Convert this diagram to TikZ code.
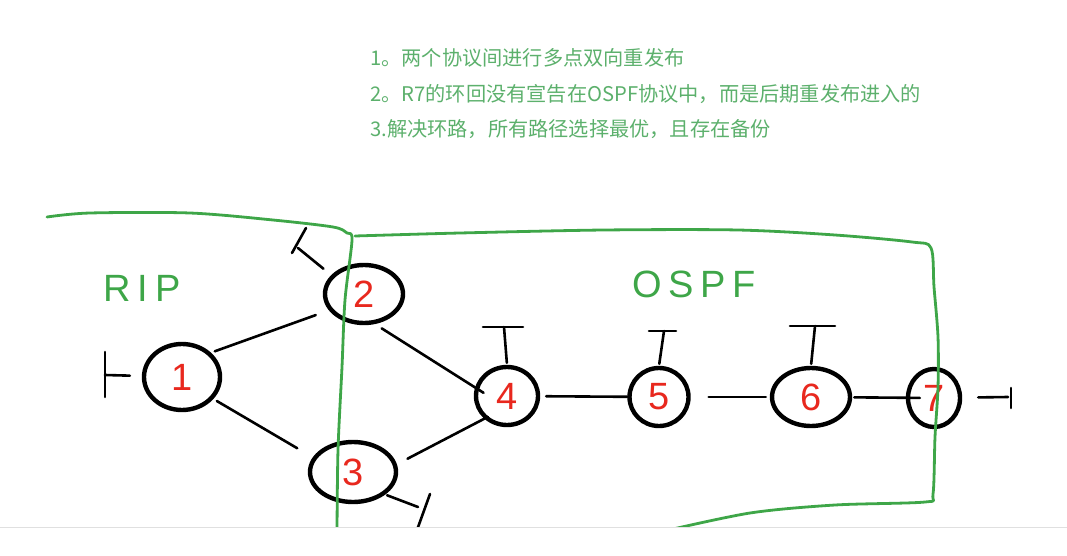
\documentclass[tikz,border=0pt]{standalone}
\usepackage{fontspec}
\newfontfamily\cjk{Noto Sans CJK SC}
\newfontfamily\cifre{Liberation Sans}
\newfontfamily\mano[LetterSpace=18]{Liberation Sans}
\usetikzlibrary{shapes.geometric}

\definecolor{testo}{RGB}{92,176,108}
\definecolor{verde}{RGB}{62,166,72}
\definecolor{rosso}{RGB}{232,40,30}

\tikzset{
    router/.style={ellipse, draw, line width=4.4pt, inner sep=0pt,
        text=rosso, font=\cifre\fontsize{38}{38}\selectfont},
    link/.style={line width=2.6pt, shorten <=4pt, shorten >=2pt},
    stub/.style={line width=2.6pt},
    bordo/.style={draw=verde, line width=2.8pt},
    riga/.style={anchor=base west, inner sep=0pt, text=testo,
        font=\cjk\fontsize{20.2}{20.2}\selectfont},
    area/.style={text=verde, font=\mano\fontsize{38}{38}\selectfont},
}

\begin{document}
\begin{tikzpicture}[x=1pt, y=-1pt, line cap=round, line join=round]

    \useasboundingbox (0,0) rectangle (1067,556);

    % Note in alto
    \node[riga] (nota1) at (370,65.5) {1。两个协议间进行多点双向重发布};
    \node[riga] (nota2) at (370,101.5) {2。R7的环回没有宣告在OSPF协议中，而是后期重发布进入的};
    \node[riga] (nota3) at (370,136.5) {3.解决环路，所有路径选择最优，且存在备份};

    \begin{scope}
    \clip (0,0) rectangle (1067,527);

    % Router
    \node[router, minimum width=76pt, minimum height=66pt] (r1) at (182,377) {1};
    \node[router, minimum width=78pt, minimum height=58pt] (r2) at (364,294) {2};
    \node[router, minimum width=86pt, minimum height=60pt] (r3) at (353,472) {3};
    \node[router, minimum width=62pt, minimum height=58pt] (r4) at (507,396) {4};
    \node[router, minimum width=59pt, minimum height=58pt] (r5) at (659,397) {5};
    \node[router, minimum width=78pt, minimum height=58pt] (r6) at (811,397) {6};
    \node[router, minimum width=52pt, minimum height=58pt] (r7) at (934,398) {7};

    % Collegamenti
    \draw[link, shorten >=14pt] (r1.40) -- (r2.205);
    \draw[link, shorten >=18pt] (r1.-35) -- (r3.160);
    \draw[link, shorten <=8pt, shorten >=-10pt] (r2.-70) -- (r4.165);
    \draw[link, shorten <=12pt, shorten >=-4pt] (r3.10) -- (r4.-135);
    \draw[link, shorten <=6pt, shorten >=0pt] (r4) -- (r5);
    \draw[link, shorten <=18pt, shorten >=4pt] (r5) -- (r6);
    \draw[link, shorten <=2pt, shorten >=-14pt] (r6) -- (r7);

    % Interfacce di loopback
    \coordinate (s1) at (105,375);
    \draw[link, shorten <=12pt, shorten >=0pt] (r1) -- (s1);
    \draw[stub] ([shift={(0,-23)}]s1) -- ([shift={(0,22)}]s1);

    \coordinate (s2) at (298,248);
    \draw[link, shorten <=10pt, shorten >=0pt] (r2.150) -- (s2);
    \draw[stub] ([shift={(-6,5)}]s2) -- ([shift={(8,-20)}]s2);

    \coordinate (s3) at (418,507);
    \draw[link, shorten <=2pt, shorten >=0pt] (r3.-35) -- (s3);
    \draw[stub] ([shift={(12,-13)}]s3) -- ([shift={(-1,23)}]s3);

    \coordinate (s4) at (504,327);
    \draw[link, shorten <=2pt, shorten >=0pt] (r4.north) -- (s4);
    \draw[stub] ([shift={(-21,0)}]s4) -- ([shift={(19,0)}]s4);

    \coordinate (s5) at (664,331);
    \draw[link, shorten <=2pt, shorten >=0pt] (r5.north) -- (s5);
    \draw[stub] ([shift={(-15,0)}]s5) -- ([shift={(12,0)}]s5);

    \coordinate (s6) at (815,326);
    \draw[link, shorten <=2pt, shorten >=0pt] (r6.north) -- (s6);
    \draw[stub] ([shift={(-25,0)}]s6) -- ([shift={(20,0)}]s6);

    \coordinate (s7) at (1008,397);
    \draw[link, shorten <=16pt, shorten >=0pt] (r7) -- (s7);
    \draw[stub] ([shift={(3,-9)}]s7) -- ([shift={(3,11)}]s7);

    % Aree di routing
    \node[area] (rip) at (142,288) {RIP};
    \node[area] (ospf) at (694,284) {OSPF};

    \draw[bordo] plot[smooth, tension=0.5] coordinates {
        (47,217) (90,213) (190,213) (273,220) (333,227) (347,233) (352,240)
        (345,300) (342,367) (338,450) (337,532)};
    \draw[bordo] plot[smooth, tension=0.5] coordinates {
        (355,236) (460,233) (604,230) (738,230) (835,235) (912,242) (931,248)
        (934,287) (938,337) (938,387) (935,437) (933,494) (925,502)
        (835,505) (750,513) (660,532)};
    \end{scope}

    % Bordo inferiore
    \draw[black!12, line width=1pt] (0,527.5) -- (1067,527.5);

\end{tikzpicture}
\end{document}
